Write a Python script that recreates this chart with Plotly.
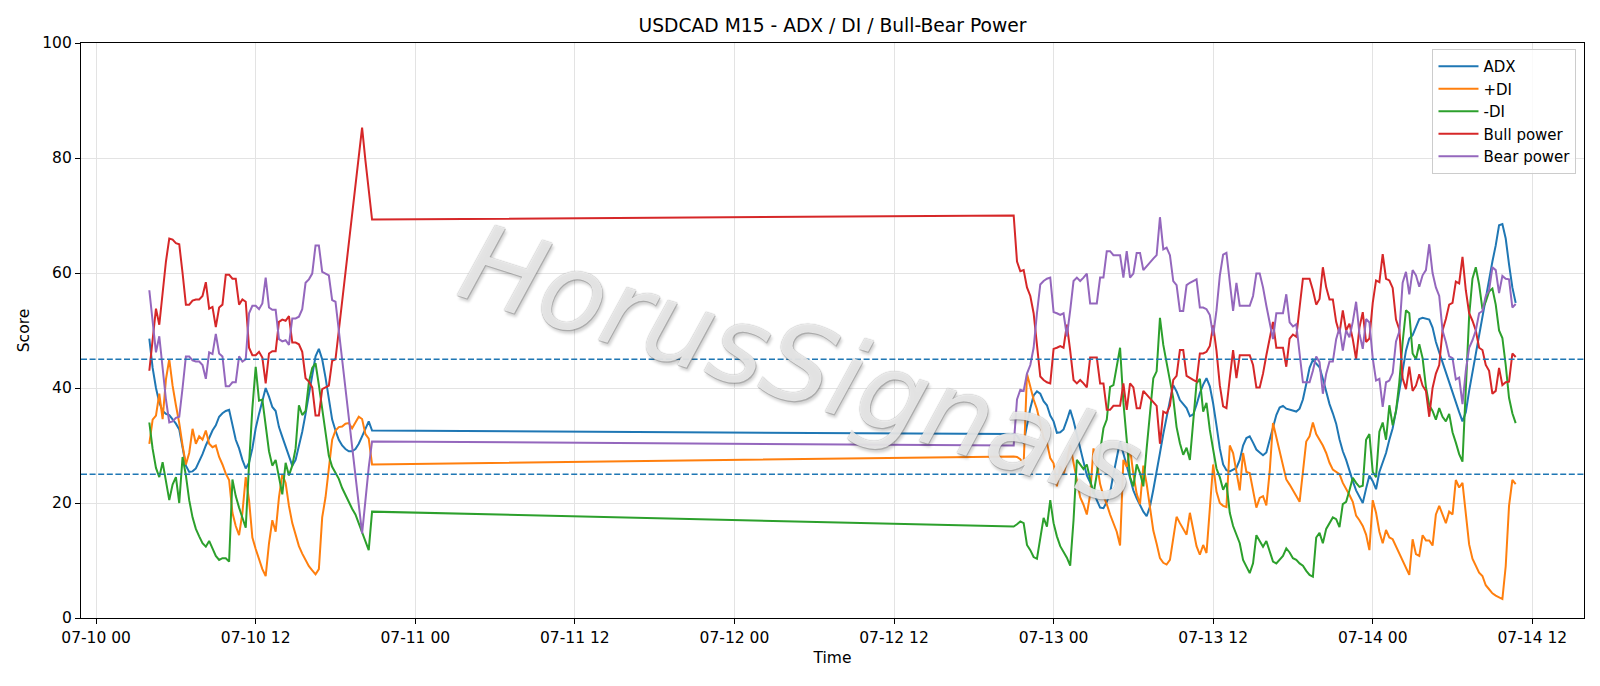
import pandas as pd
import plotly.graph_objects as go

# ---------------- data ----------------
seg_a_start = "2026-07-10 04:00"   # first block, 15-minute bars
seg_b_start = "2026-07-12 21:00"   # second block, 15-minute bars

adx_a = [48.6, 43.5, 40, 37.5, 36, 35.5, 35.3, 34.6, 33.8, 32.8,
         29.5, 26.5, 25.4, 25.5, 26, 27.2, 28.5, 30, 31.3, 32.6,
         33.5, 35, 35.6, 36, 36.2, 33.5, 31, 29.5, 27.5, 26,
         27, 29.5, 33, 35.5, 38, 40, 38.5, 36.7, 36, 33.2,
         31.5, 29.8, 28.2, 26.5, 27.5, 29.8, 32.4, 35.5, 38.8, 42.8,
         45.5, 46.8, 45, 41.8, 37.8, 34.5, 32.6, 31, 30, 29.4,
         29, 29, 29.4, 30.3, 31.6, 33, 34.2, 32.6]
pdi_a = [30.3, 34.5, 35.2, 39, 34.6, 41.5, 45, 40.4, 37, 33.9,
         30, 26.7, 28.7, 32.9, 30.3, 31.6, 31, 32.6, 30.3, 29.7,
         30, 28, 26.7, 25.1, 24, 18.3, 16, 14.4, 18.3, 24.5,
         20.5, 14, 12, 10.4, 8.5, 7.3, 13, 17, 15, 21,
         25, 23.5, 19.5, 16.5, 14.5, 12.5, 11.2, 10.2, 9, 8.3,
         7.6, 8.5, 17.5, 21, 26.5, 31, 32.6, 33.2, 33.3, 33.8,
         33.9, 33, 34, 35, 34.6, 32, 31.2, 26.7]
mdi_a = [34, 29.4, 26.1, 24.5, 27.1, 23.5, 20.5, 23.2, 24.5, 20,
         28, 24.8, 20.5, 17.5, 15.5, 14.2, 13, 12.4, 13.4, 12.1,
         10.8, 10.1, 10.4, 10.4, 9.8, 24.1, 21.2, 19.2, 17.3, 15.7,
         26.7, 36.5, 43.7, 37.8, 38, 33, 29, 26.5, 27.5, 24.5,
         21.5, 27, 24.8, 26.5, 29.5, 37, 35.3, 36, 41, 43.5,
         44.3, 40.5, 36.2, 32.4, 28.2, 26.3, 25.2, 24.2, 22.6, 21.3,
         20, 19, 18, 16.4, 14.8, 13.1, 11.8, 18.5]
bull_a = [43, 49, 53.8, 51, 57, 62, 66, 65.8, 65.2, 65,
          60, 54.5, 54.5, 55.2, 55.4, 55.4, 56, 58.4, 53.8, 54.1,
          50.6, 54, 54.5, 59.7, 59.7, 59, 59, 54.5, 55.4, 55,
          47, 45.7, 45.7, 46.3, 45.3, 40.8, 46, 46.4, 46.4, 51.5,
          51.9, 51.7, 52.5, 47.9, 47.9, 47.6, 46.3, 41.7, 41.1, 40.1,
          35.2, 35.2, 39.8, 40.1, 40.4, 44.7, 45, 50, 55.1, 60.1,
          65.2, 70.2, 75.3, 80.3, 85.3, 79.6, 73.8, 69.3]
bear_a = [57, 51, 46.2, 49, 43, 38, 34, 34.2, 34.8, 35,
          40, 45.5, 45.5, 44.8, 44.6, 44.6, 44, 41.6, 46.2, 45.9,
          49.4, 46, 45.5, 40.3, 40.3, 41, 41, 45.5, 44.6, 45,
          53, 54.3, 54.3, 53.7, 54.7, 59.2, 54, 53.6, 53.6, 48.5,
          48.1, 48.3, 47.5, 52.1, 52.1, 52.4, 53.7, 58.3, 58.9, 59.9,
          64.8, 64.8, 60.2, 59.9, 59.6, 55.3, 55, 50, 44.9, 39.9,
          34.8, 29.8, 24.7, 19.7, 14.7, 20.4, 26.2, 30.7]

adx_b = [32, 31.7, 30.8, 30.5, 33.8, 36.5, 38.7, 39.4, 39, 37.7,
         37, 35.2, 34.2, 32.2, 32.3, 32.8, 34.4, 36.2, 34.3, 31.8,
         29.4, 27, 24.8, 23.6, 22, 20.5, 19.2, 19.1, 20.2, 21.8,
         25, 28.2, 30.7, 28.6, 26.4, 24, 22.2, 20.8, 19.7, 18.5,
         17.7, 19.4, 22.3, 25.3, 28.7, 32, 35.2, 37.8, 40.5, 39.4,
         37.9, 37.1, 36.5, 35.1, 35.4, 37.1, 39.1, 40.6, 41.7, 40.3,
         37.3, 33.5, 29.5, 26.7, 25.7, 25.5, 25.8, 26.1, 27.5, 30,
         31.3, 31.6, 30.5, 29.3, 28.8, 28.3, 28.8, 31, 33.3, 35.3,
         36.6, 36.9, 36.4, 36.2, 36, 35.9, 36.4, 38, 40.7, 43.5,
         44.9, 44.3, 43.6, 41.6, 39.5, 37.2, 35.6, 33.8, 31.1, 29,
         27.5, 25.5, 23.8, 22.2, 21, 20, 22.5, 24.8, 23.8, 22.4,
         25.4, 27, 28.7, 31, 33, 36, 39.5, 43, 46.5, 48.6,
         49.2, 50.6, 52, 52.2, 52, 51.9, 50.5, 48, 46.2, 44.4,
         42.8, 41.2, 39.1, 37.6, 35.8, 34.2, 35.8, 39.5, 42.8, 46,
         49.2, 52.5, 55.8, 59.2, 62, 64.8, 68.3, 68.5, 66, 61.5,
         57.5, 54.8]
pdi_b = [28.1, 28, 27.6, 26.7, 42.5, 40, 38, 36.3, 34, 31.3,
         30.5, 27.8, 26.9, 22.9, 26.4, 24.9, 27.3, 30.1, 27, 24,
         21, 19.7, 18, 21.5, 29.5, 27, 23.3, 21.2, 19.8, 18,
         16.4, 15, 12.6, 27.5, 26.3, 29.5, 25, 21.6, 19.8, 26.5,
         23.3, 19.3, 15.2, 12.9, 10.4, 9.6, 9.3, 10.1, 14.2, 17.6,
         16.5, 15.4, 14.5, 18.3, 15.4, 12.5, 11, 12.7, 11.3, 19.4,
         26.7, 22, 20, 19.5, 19.3, 30, 28.7, 25.4, 22.2, 28.7,
         25.4, 25.2, 22.2, 19.2, 20.9, 21.2, 19.6, 25.4, 33.9, 31.3,
         28.7, 26.1, 24.1, 23.2, 22.2, 21.2, 20.2, 25.4, 30.7, 31.6,
         34, 32, 31, 30, 28.7, 27, 25.8, 25.4, 25, 23.5,
         22.5, 21.4, 20.2, 17.8, 17, 16, 14.5, 11.8, 20.5, 18.3,
         15, 13, 15.3, 14, 13.7, 12.4, 11.1, 9.8, 8.5, 7.5,
         13.7, 11.1, 10.8, 14.4, 13.5, 13.5, 12.6, 18, 19.5, 18,
         16.5, 18.5, 18, 24, 22.7, 23.5, 18, 12.8, 10.3, 9,
         7.9, 7.3, 5.7, 5, 4.3, 3.9, 3.6, 3.3, 9, 19.5,
         24, 23.3]
mdi_b = [15.9, 16.3, 16.8, 16.5, 12.7, 11.8, 10.6, 10.3, 13.5, 17.4,
         15.9, 20.5, 16.5, 14.2, 12.5, 11.5, 10.5, 9.1, 17, 27.5,
         26.8, 25.9, 26.7, 24, 21.5, 25, 29.5, 33, 34.5, 40.2,
         40.5, 44, 47, 37.5, 30.3, 24.5, 22.9, 26.7, 25.2, 22.9,
         29.5, 35, 41.7, 42.9, 52.2, 47.5, 44.3, 41.3, 38.2, 33.2,
         30.4, 28.4, 29.6, 27.5, 34.5, 40.8, 41.6, 35.9, 37.4, 32.7,
         29.3, 26, 24.5, 22.3, 23.5, 18.3, 16, 14.4, 13, 10.1,
         8.8, 7.8, 9.5, 14.4, 13.4, 12.4, 13.4, 11.4, 9.8, 9.5,
         10.1, 10.8, 12.1, 11.4, 10.4, 10.1, 9.5, 9.1, 8.2, 7.5,
         7.2, 14, 14.8, 13, 15.5, 16.5, 17.5, 17.2, 15.8, 19.8,
         20.2, 22.2, 24.4, 23.5, 22.8, 23, 31, 32, 25.4, 24.5,
         32.4, 34, 31, 37, 33.5, 36, 41, 48, 53.5, 53,
         46, 45, 47.6, 45.2, 40.2, 37, 36, 34.5, 36.5, 35,
         34.2, 35.5, 32.3, 30.5, 28.5, 27.2, 40, 52.5, 59, 61,
         58, 53.7, 55, 56.8, 57.3, 54.5, 50, 48.7, 44, 38.3,
         35.6, 33.9]
bull_b = [70, 62, 60.3, 60.5, 57.5, 56, 53, 47, 42, 41.4,
          41, 40.8, 46.8, 47, 47.3, 47, 51, 46.5, 41.4, 40.8,
          41.4, 40.8, 40.1, 45.3, 45.3, 45.3, 40.8, 40.8, 36.2, 36.2,
          36.9, 36.9, 36.9, 40.8, 36.2, 40.8, 40.1, 36.5, 36.5, 39.5,
          38.8, 38.2, 37.5, 36.9, 30.3, 35.9, 35.6, 36.9, 41.4, 42.1,
          46.6, 46.6, 42.1, 41.7, 41.4, 41.1, 46, 46, 46.3, 47.3,
          50.9, 46.5, 40.5, 36.8, 36.5, 41.7, 46.6, 41.7, 45.7, 45.7,
          45.7, 45.7, 44, 40.1, 40.1, 42.5, 45.7, 48.5, 51.5, 47,
          47, 47, 43.7, 48.6, 49.3, 48.9, 54, 59, 59, 59,
          57, 54.5, 55.5, 61, 57.5, 55.4, 55.4, 51.5, 49.5, 53.5,
          50, 51.2, 48.5, 45, 50.5, 53.2, 48, 48.6, 54.8, 58.7,
          58.4, 63.3, 59, 58.7, 57.4, 51.9, 50.2, 41.7, 39.8, 43.7,
          39.5, 40.4, 42.4, 40.4, 39.5, 35, 40, 42.5, 44, 50,
          52, 54.5, 54.8, 58.5, 58.2, 62.8, 57, 53, 51.7, 50,
          47, 46.6, 44, 43, 39, 39.5, 43.5, 40.5, 41, 41.1,
          46, 45.4]
bear_b = [30, 38, 39.7, 39.5, 42.5, 44, 47, 53, 58, 58.6,
          59, 59.2, 53.2, 53, 52.7, 53, 49, 53.5, 58.6, 59.2,
          58.6, 59.2, 59.9, 54.7, 54.7, 54.7, 59.2, 59.2, 63.8, 63.8,
          63.1, 63.1, 63.1, 59.2, 63.8, 59.2, 59.9, 63.5, 63.5, 60.5,
          61.2, 61.8, 62.5, 63.1, 69.7, 64.1, 64.4, 63.1, 58.6, 57.9,
          53.4, 53.4, 57.9, 58.3, 58.6, 58.9, 54, 54, 53.7, 52.7,
          49.1, 53.5, 59.5, 63.2, 63.5, 58.3, 53.4, 58.3, 54.3, 54.3,
          54.3, 54.3, 56, 59.9, 59.9, 57.5, 54.3, 51.5, 48.5, 53,
          53, 53, 56.3, 51.4, 50.7, 51.1, 46, 41, 41, 41,
          43, 45.5, 44.5, 39, 42.5, 44.6, 44.6, 48.5, 50.5, 46.5,
          50, 48.8, 51.5, 55, 49.5, 46.8, 52, 51.4, 45.2, 41.3,
          41.6, 36.7, 41, 41.3, 42.6, 48.1, 49.8, 58.3, 60.2, 56.3,
          60.5, 59.6, 57.6, 59.6, 60.5, 65, 60, 57.5, 56, 50,
          48, 45.5, 45.2, 41.5, 41.8, 37.2, 43, 47, 48.3, 50,
          53, 53.4, 56, 57, 61, 60.5, 56.5, 59.5, 59, 58.9,
          54, 54.6]

series_names = ["ADX", "+DI", "-DI", "Bull power", "Bear power"]
series_colors = ["#1f77b4", "#ff7f0e", "#2ca02c", "#d62728", "#9467bd"]
threshold_levels = [45, 25]
y_ticks = [0, 20, 40, 60, 80, 100]

# ---------------- build ----------------
times = list(pd.date_range(seg_a_start, periods=len(adx_a), freq="15min")) + \
        list(pd.date_range(seg_b_start, periods=len(adx_b), freq="15min"))
values = [adx_a + adx_b, pdi_a + pdi_b, mdi_a + mdi_b, bull_a + bull_b, bear_a + bear_b]

FONT = "DejaVu Sans"
fig = go.Figure()
for name, col, vals in zip(series_names, series_colors, values):
    fig.add_trace(go.Scatter(x=times, y=vals, mode="lines", name=name,
                             line=dict(color=col, width=2)))

for lvl in threshold_levels:
    fig.add_shape(type="line", xref="paper", x0=0, x1=1, yref="y", y0=lvl, y1=lvl,
                  line=dict(color="#1f77b4", width=1.4, dash="6px,2.6px"), layer="above")

t0 = pd.Timestamp(times[0]); t1 = pd.Timestamp(times[-1])
pad = (t1 - t0) * 0.05

fig.add_annotation(text="HorusSignals", xref="paper", yref="paper", x=0.479, y=0.441,
                   showarrow=False, textangle=17.5,
                   font=dict(family=FONT, size=108, style="italic",
                             color="rgba(255,255,255,0.8)",
                             shadow="0px 0px 1px rgba(70,70,70,0.75), 1px 1px 0px rgba(120,120,120,0.45), 3px 3px 3px rgba(0,0,0,0.22)"))

fig.update_layout(
    width=1600, height=686,
    margin=dict(l=81, r=16, t=43, b=68),
    paper_bgcolor="white", plot_bgcolor="white",
    font=dict(family=FONT, size=15.5, color="black"),
    title=dict(text="USDCAD M15 - ADX / DI / Bull-Bear Power", x=0.5, xref="paper",
               y=1 - 25.5 / 686, yref="container", yanchor="middle", xanchor="center",
               font=dict(size=18.7, color="black", family=FONT)),
    legend=dict(x=0.995, y=0.9894, xanchor="right", yanchor="top",
                bgcolor="rgba(255,255,255,0.8)", bordercolor="#cccccc", borderwidth=1,
                font=dict(size=15, family=FONT), tracegroupgap=0, itemwidth=40),
    showlegend=True,
)
fig.update_xaxes(type="date", range=[t0 - pad, t1 + pad],
                 tick0="2026-07-10 00:00", dtick=12 * 3600 * 1000, tickformat="%m-%d %H",
                 showgrid=True, gridcolor="#e3e3e3", gridwidth=1,
                 showline=True, linecolor="black", linewidth=1.2, mirror=True,
                 ticks="outside", ticklen=5, tickcolor="black",
                 title=dict(text="Time", standoff=6, font=dict(size=15.5)), zeroline=False)
fig.update_yaxes(range=[0, 100], tickvals=y_ticks,
                 showgrid=True, gridcolor="#e3e3e3", gridwidth=1,
                 showline=True, linecolor="black", linewidth=1.2, mirror=True,
                 ticks="outside", ticklen=5, tickcolor="black",
                 title=dict(text="Score", standoff=8, font=dict(size=15.5)), zeroline=False)

fig.write_html("out.html")
